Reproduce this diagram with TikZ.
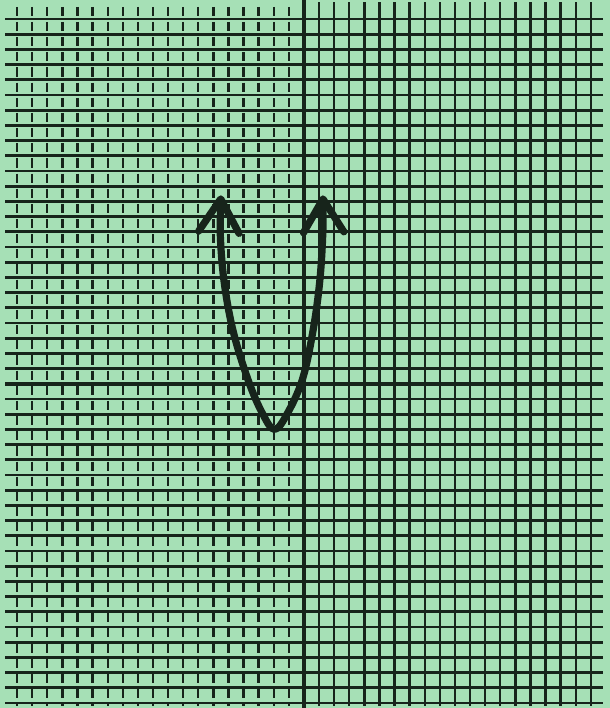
\documentclass[tikz,border=0pt]{standalone}
\usepackage{xcolor}
\usepackage{tikz}
\usetikzlibrary{arrows.meta}
\definecolor{figpaper}{HTML}{A6E0B6}
\definecolor{figink}{HTML}{17241B}
\tikzset{
  hline/.style={figink,line width=1.6pt},
  vline/.style={figink,line width=1.35pt},
  vdash/.style={vline,dash pattern=on 5.2pt off 3.425pt,dash phase=6.9pt},
  axisline/.style={figink,line width=2.2pt},
  curveline/.style={figink,line width=4.1pt,line cap=round,line join=round,
    >={Straight Barb[length=19pt,width=23pt,round]}}
}

\begin{document}
\begin{tikzpicture}[x=0.302cm,y=0.304cm]
    \def\xl{-19.8}
    \def\xr{19.8}
    \def\yb{-21.33}
    \def\yt{25.25}
    \useasboundingbox (-20.132,\yb) rectangle (20.265,\yt);
    \fill[figpaper] (-20.132,\yb) rectangle (20.265,\yt);
    % grid
    \foreach \y in {-21,...,24} {
      \draw[hline] (\xl,\y) -- (\xr,\y);
    }
    \foreach \x in {-19,...,-1} {
      \draw[vdash] (\x,25) -- (\x,-21.2);
    }
    \foreach \x in {1,...,19} {
      \draw[vline] (\x,25.1) -- (\x,-21.2);
    }
    % axes
    \draw[axisline] (\xl,0) -- (\xr,0);
    \draw[axisline] (0,\yt) -- (0,\yb);
    % parabola
    \coordinate (ltip) at (-5.5,12.4);
    \coordinate (vertex) at (-1.95,-3.0);
    \coordinate (rtip) at (1.25,12.4);
    \draw[curveline,<->] plot[smooth,tension=0.6] coordinates {
      (ltip) (-5.55,10) (-5.3,6.8) (-4.7,3.5) (-3.7,0.25) (-2.75,-1.95)
      (vertex) (-1.1,-1.95) (-0.1,0.3) (0.6,3.5) (1.05,6.8) (1.25,10) (rtip)};
  \end{tikzpicture}
\end{document}
